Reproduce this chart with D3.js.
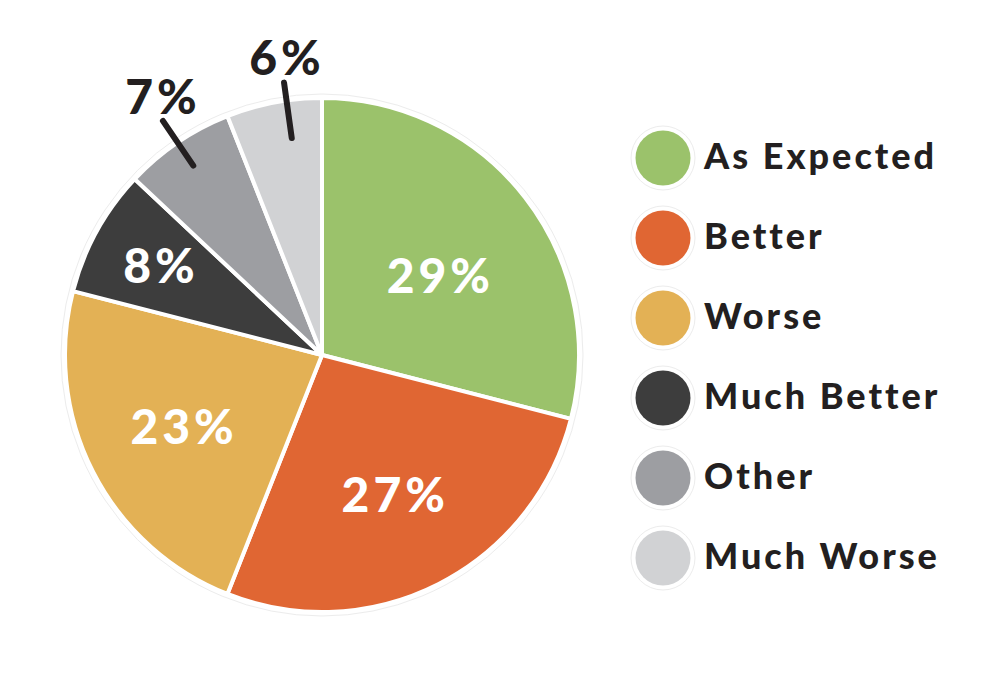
<!DOCTYPE html>
<html><head><meta charset="utf-8">
<script src="https://cdn.jsdelivr.net/npm/d3@7"></script>
<style>body{margin:0;background:#fff}svg{display:block}</style>
</head><body><svg id="c" width="1000" height="678"></svg>
<script>
const categories = ["As Expected","Better","Worse","Much Better","Other","Much Worse"];
const values = [29,27,23,8,7,6];
const colors = ["#9bc26b","#e06633","#e3b155","#3d3d3d","#9d9ea2","#d1d2d4"];
const labels = ["29%","27%","23%","8%","7%","6%"];

const svg = d3.select("#c");
const cx = 322, cy = 355, R = 257;
const font = "Lato, 'Open Sans', sans-serif";
const g = svg.append("g").attr("transform",`translate(${cx},${cy})`);

const pie = d3.pie().sort(null).value(d=>d)(values);
const arc = d3.arc().innerRadius(0).outerRadius(R);

g.append("circle").attr("r",R+4).attr("fill","none").attr("stroke","#ececec").attr("stroke-width",1);
g.selectAll("path.s").data(pie).join("path").attr("class","s")
  .attr("d",arc).attr("fill",(d,i)=>colors[i]).attr("stroke","#fff").attr("stroke-width",4).attr("stroke-linejoin","round");

const pctFont = 48, pctSpacing = 4;
// inside labels
const inRad = [141,157,157,186];
const inAng = [0.06,0,0,0];
pie.forEach((d,i)=>{
  if(i>3) return;
  const a=(d.startAngle+d.endAngle)/2+inAng[i], r=inRad[i];
  g.append("text").attr("x",Math.sin(a)*r+pctSpacing/2).attr("y",-Math.cos(a)*r)
   .attr("text-anchor","middle").attr("dy","0.36em")
   .attr("font-family",font).attr("font-weight",900).attr("font-size",pctFont)
   .attr("letter-spacing",pctSpacing)
   .attr("fill","#fff").text(labels[i]);
});
// outside labels with leader lines
const outer = [{r0:229,r1:283,da:0,tx:-2,ty:-24},{r0:219,r1:275,da:0.05,tx:1,ty:-25}];
pie.forEach((d,i)=>{
  if(i<4) return;
  const o=outer[i-4];
  const a=(d.startAngle+d.endAngle)/2+o.da;
  const ex=Math.sin(a)*o.r1, ey=-Math.cos(a)*o.r1;
  g.append("line").attr("x1",Math.sin(a)*o.r0).attr("y1",-Math.cos(a)*o.r0)
   .attr("x2",ex).attr("y2",ey)
   .attr("stroke","#231f20").attr("stroke-width",6).attr("stroke-linecap","round");
  g.append("text").attr("x",ex+o.tx+pctSpacing/2).attr("y",ey+o.ty)
   .attr("text-anchor","middle").attr("dy","0.36em")
   .attr("font-family",font).attr("font-weight",900).attr("font-size",pctFont)
   .attr("letter-spacing",pctSpacing)
   .attr("fill","#231f20").text(labels[i]);
});

// legend
const ly = d3.scalePoint().domain(categories).range([158,558]);
const lg = svg.append("g");
categories.forEach((c,i)=>{
  const y = ly(c);
  lg.append("circle").attr("cx",663).attr("cy",y).attr("r",32).attr("fill","#fff").attr("stroke","#ececec").attr("stroke-width",1);
  lg.append("circle").attr("cx",663).attr("cy",y).attr("r",27.5).attr("fill",colors[i]);
  lg.append("text").attr("x",704).attr("y",y).attr("dy","0.3em")
   .attr("font-family",font).attr("font-weight",900).attr("font-size",36)
   .attr("letter-spacing",3)
   .attr("fill","#231f20").text(c);
});
</script></body></html>
